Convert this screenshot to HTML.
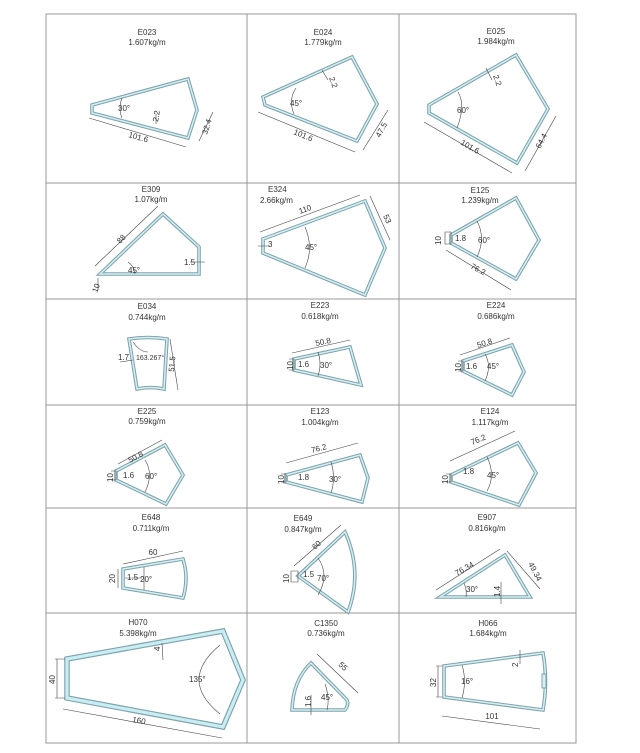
<!DOCTYPE html>
<html><head><meta charset="utf-8"><style>
html,body{margin:0;padding:0;background:#fff}
svg{display:block}
text{font-family:"Liberation Sans",sans-serif;font-size:8px;fill:#333}
.t{text-anchor:middle}
.p{fill:none;stroke:#7fa3ab;stroke-width:3.6;stroke-linejoin:miter}
.h{fill:none;stroke:#7fa3ab;stroke-width:5.5}
.q{fill:none;stroke:#d3f0f4;stroke-width:1.5}
.hq{fill:none;stroke:#c8eef4;stroke-width:3.2}
.d{fill:none;stroke:#444;stroke-width:0.6}
.g{fill:none;stroke:#999;stroke-width:1}
</style></head><body>
<svg width="640" height="753" viewBox="0 0 640 753">
<rect x="46" y="14" width="530" height="729" class="g"/>
<path class="g" d="M247 14V743M399 14V743M46 183H576M46 299H576M46 405H576M46 508H576M46 613H576"/>

<!-- Row 1 -->
<text class="t" x="147" y="35">E023</text><text class="t" x="147" y="45">1.607kg/m</text>
<g class="p"><polygon id="s1" points="92,105 188,79 197,110 188,138 92,113"/></g><use href="#s1" class="q"/>
<path class="d" d="M89,118 L186,147 M199,141 L213,112 M122,98 Q118,108 122,118 M156,114 L156,124"/>
<text x="118" y="111">30°</text>
<text x="0" y="0" transform="translate(158,122) rotate(-80)">2.2</text>
<text x="0" y="0" transform="translate(128,137) rotate(16)">101.6</text>
<text x="0" y="0" transform="translate(207,135) rotate(-72)">32.4</text>

<text class="t" x="323" y="35">E024</text><text class="t" x="323" y="45">1.779kg/m</text>
<g class="p"><polygon id="s2" points="263,97 352,57 377,104 357,141 265,105"/></g><use href="#s2" class="q"/>
<path class="d" d="M258,112 L355,152 M363,150 L388,110 M296,88 Q288,100 294,114 M322,70 L328,80"/>
<text x="290" y="106">45°</text>
<text x="0" y="0" transform="translate(329,78) rotate(70)">2.2</text>
<text x="0" y="0" transform="translate(293,134) rotate(22)">101.6</text>
<text x="0" y="0" transform="translate(380,138) rotate(-62)">47.5</text>

<text class="t" x="496" y="34">E025</text><text class="t" x="496" y="44">1.984kg/m</text>
<g class="p"><polygon id="s3" points="429,105 516,55 548,109 517,163 429,113"/></g><use href="#s3" class="q"/>
<path class="d" d="M424,122 L512,173 M525,171 L556,116 M458,92 Q466,105 457,128 M486,68 L492,80"/>
<text x="457" y="113">60°</text>
<text x="0" y="0" transform="translate(493,76) rotate(70)">2.2</text>
<text x="0" y="0" transform="translate(460,144) rotate(30)">101.6</text>
<text x="0" y="0" transform="translate(540,149) rotate(-62)">64.4</text>

<!-- Row 2 -->
<text class="t" x="151" y="192">E309</text><text class="t" x="151" y="202">1.07kg/m</text>
<g class="p"><polygon id="s4" points="100,274 163,214 199,247 199,274"/></g><use href="#s4" class="q"/>
<path class="d" d="M95,266 L158,206 M128,262 Q134,266 135,274 M190,262 L205,262 M98,278 L98,290"/>
<text x="0" y="0" transform="translate(120,244) rotate(-45)">88</text>
<text x="128" y="273">45°</text><text x="184" y="265">1.5</text>
<text x="0" y="0" transform="translate(97,293) rotate(-70)">10</text>

<text x="268" y="192">E324</text><text x="260" y="203">2.66kg/m</text>
<g class="p"><polygon id="s5" points="263,239 365,201 385,248 365,295 263,253"/></g><use href="#s5" class="q"/>
<path class="d" d="M260,232 L360,195 M370,196 L390,240 M305,227 Q314,248 305,268 M258,246 L270,246"/>
<text x="0" y="0" transform="translate(300,214) rotate(-20)">110</text>
<text x="0" y="0" transform="translate(383,216) rotate(65)">53</text>
<text x="305" y="250">45°</text><text x="268" y="247">3</text>

<text class="t" x="480" y="193">E125</text><text class="t" x="480" y="203">1.239kg/m</text>
<g class="p"><polygon id="s6" points="451,235 516,198 539,240 516,279 451,243"/></g><use href="#s6" class="q"/>
<path class="d" d="M445,232 L451,232 L451,244 L445,244 Z M446,250 L511,290 M477,221 Q486,238 477,257"/>
<text x="0" y="0" transform="translate(441,245) rotate(-90)">10</text>
<text x="455" y="241">1.8</text><text x="478" y="243">60°</text>
<text x="0" y="0" transform="translate(470,268) rotate(28)">76.2</text>

<!-- Row 3 -->
<text class="t" x="147" y="309">E034</text><text class="t" x="147" y="320">0.744kg/m</text>
<g class="p"><path id="s7" d="M129,339 Q148,336 167,339 L164,389 Q150,386 137,389 Z"/></g><use href="#s7" class="q"/>
<path class="d" d="M120,362 L133,360 M170,339 L178,390 M133,342 Q140,352 148,352"/>
<text x="118" y="360">1.7</text><text x="136" y="360" style="font-size:7px">163.267°</text>
<text x="0" y="0" transform="translate(174,372) rotate(-85)">51.5</text>

<text class="t" x="320" y="308">E223</text><text class="t" x="320" y="319">0.618kg/m</text>
<g class="p"><polygon id="s8" points="294,359 350,347 361,385 294,370"/></g><use href="#s8" class="q"/>
<path class="d" d="M289,359 L294,359 L294,370 L289,370 M292,353 L350,340 M318,352 Q322,364 318,376"/>
<text x="0" y="0" transform="translate(293,370) rotate(-90)">10</text>
<text x="298" y="367">1.6</text><text x="320" y="368">30°</text>
<text x="0" y="0" transform="translate(316,346) rotate(-12)">50.8</text>

<text class="t" x="496" y="308">E224</text><text class="t" x="496" y="319">0.686kg/m</text>
<g class="p"><polygon id="s9" points="463,361 512,345 524,372 512,395 463,371"/></g><use href="#s9" class="q"/>
<path class="d" d="M458,361 L463,361 L463,371 L458,371 M460,355 L510,338 M485,354 Q492,366 485,381"/>
<text x="0" y="0" transform="translate(461,372) rotate(-90)">10</text>
<text x="466" y="369">1.6</text><text x="487" y="369">45°</text>
<text x="0" y="0" transform="translate(478,348) rotate(-18)">50.8</text>

<!-- Row 4 -->
<text class="t" x="147" y="414">E225</text><text class="t" x="147" y="424">0.759kg/m</text>
<g class="p"><polygon id="s10" points="116,471 165,445 183,475 166,504 116,480"/></g><use href="#s10" class="q"/>
<path class="d" d="M111,471 L116,471 L116,480 L111,480 M118,464 L162,440 M145,460 Q154,474 145,492"/>
<text x="0" y="0" transform="translate(113,482) rotate(-90)">10</text>
<text x="123" y="478">1.6</text><text x="145" y="479">60°</text>
<text x="0" y="0" transform="translate(130,463) rotate(-28)">50.8</text>

<text class="t" x="320" y="414">E123</text><text class="t" x="320" y="425">1.004kg/m</text>
<g class="p"><polygon id="s11" points="286,475 360,455 368,478 362,502 286,482"/></g><use href="#s11" class="q"/>
<path class="d" d="M281,474 L286,474 L286,482 L281,482 M286,463 L358,443 M331,462 Q336,478 331,493"/>
<text x="0" y="0" transform="translate(284,484) rotate(-90)">10</text>
<text x="298" y="480">1.8</text><text x="329" y="482">30°</text>
<text x="0" y="0" transform="translate(312,453) rotate(-15)">76.2</text>

<text class="t" x="490" y="414">E124</text><text class="t" x="490" y="425">1.117kg/m</text>
<g class="p"><polygon id="s12" points="451,475 518,443 536,473 519,505 451,482"/></g><use href="#s12" class="q"/>
<path class="d" d="M446,474 L451,474 L451,482 L446,482 M450,461 L515,431 M487,457 Q496,475 487,491"/>
<text x="0" y="0" transform="translate(448,484) rotate(-90)">10</text>
<text x="463" y="474">1.8</text><text x="487" y="478">45°</text>
<text x="0" y="0" transform="translate(472,445) rotate(-22)">76.2</text>

<!-- Row 5 -->
<text class="t" x="151" y="520">E648</text><text class="t" x="151" y="531">0.711kg/m</text>
<g class="p"><path id="s13" d="M123,569 L183,559 Q189,578 183,598 L123,588 Z"/></g><use href="#s13" class="q"/>
<path class="d" d="M118,569 L118,588 M123,564 L183,551 M144,567 L144,590 M125,578 L142,578"/>
<text class="t" x="153" y="555">60</text>
<text x="0" y="0" transform="translate(115,583) rotate(-90)">20</text>
<text x="127" y="580">1.5</text><text x="140" y="582">20°</text>

<text class="t" x="303" y="521">E649</text><text class="t" x="303" y="532">0.847kg/m</text>
<g class="p"><path id="s14" d="M298,576 L345,532 Q363,572 348,612 Z"/></g><use href="#s14" class="q"/>
<path class="d" d="M291,571 L298,571 L298,582 L291,582 Z M294,566 L341,525 M318,558 Q330,575 318,595"/>
<text x="0" y="0" transform="translate(289,583) rotate(-90)">10</text>
<text x="303" y="577">1.5</text><text x="317" y="581">70°</text>
<text x="0" y="0" transform="translate(315,550) rotate(-42)">60</text>

<text class="t" x="487" y="520">E907</text><text class="t" x="487" y="531">0.816kg/m</text>
<g class="p"><polygon id="s15" points="440,597 505,555 530,597"/></g><use href="#s15" class="q"/>
<path class="d" d="M436,590 L500,549 M507,551 L540,589 M464,583 Q467,590 466,597 M501,582 L501,604"/>
<text x="0" y="0" transform="translate(457,576) rotate(-30)">76.34</text>
<text x="0" y="0" transform="translate(528,564) rotate(62)">49.34</text>
<text x="466" y="592">30°</text>
<text x="0" y="0" transform="translate(500,597) rotate(-90)">1.4</text>

<!-- Row 6 -->
<text class="t" x="138" y="625">H070</text><text class="t" x="138" y="636">5.398kg/m</text>
<g class="h"><polygon id="s16" points="67,659 223,631 243,680 223,727 67,698"/></g><use href="#s16" class="hq"/>
<path class="d" d="M55,659 L65,659 M55,698 L65,698 M57,659 L57,698 M63,709 L222,738 M220,645 Q178,680 220,714 M162,643 L163,660"/>
<text x="0" y="0" transform="translate(55,684) rotate(-90)">40</text>
<text x="0" y="0" transform="translate(132,722) rotate(10)">160</text>
<text x="189" y="682">135°</text>
<text x="0" y="0" transform="translate(160,651) rotate(-90)">4</text>

<text class="t" x="326" y="626">C1350</text><text class="t" x="326" y="636">0.736kg/m</text>
<g class="p"><path id="s17" d="M292,710 Q293,680 311,663 L347,700 Q349,705 345,710 Z"/></g><use href="#s17" class="q"/>
<path class="d" d="M317,654 L358,693 M325,684 Q330,698 327,710 M311,695 L311,715"/>
<text x="0" y="0" transform="translate(338,665) rotate(45)">55</text>
<text x="321" y="700">45°</text>
<text x="0" y="0" transform="translate(311,707) rotate(-90)">1.6</text>

<text class="t" x="488" y="626">H066</text><text class="t" x="488" y="636">1.684kg/m</text>
<g class="p"><path id="s18" d="M444,666 L543,653 Q548,681 543,710 L444,697 Z"/></g><use href="#s18" class="q"/>
<path class="d" d="M436,666 L442,666 M436,697 L442,697 M438,666 L438,697 M442,716 L540,729 M462,665 Q467,681 462,698 M520,650 L520,664"/>
<rect x="542" y="674" width="4" height="14" fill="#d3f0f4" stroke="#7fa3ab" stroke-width="1"/>
<text x="0" y="0" transform="translate(436,687) rotate(-90)">32</text>
<text x="461" y="684">16°</text>
<text class="t" x="492" y="719">101</text>
<text x="0" y="0" transform="translate(518,667) rotate(-90)">2</text>
</svg>
</body></html>
